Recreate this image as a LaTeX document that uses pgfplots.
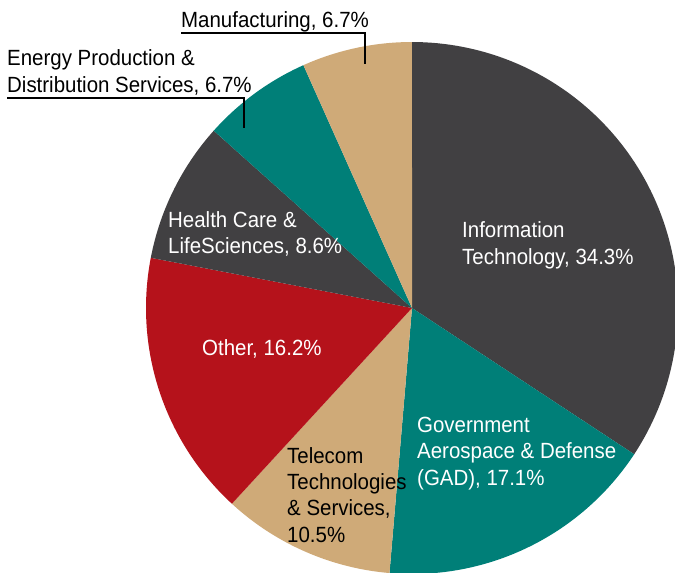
\documentclass[border=0pt]{standalone}
\usepackage{pgfplots}
\pgfplotsset{compat=1.18}
\usepackage{fontspec}
\setmainfont{Liberation Sans}[FakeStretch=0.93]

\definecolor{pgray}{HTML}{414042}
\definecolor{pteal}{HTML}{007F78}
\definecolor{ptan}{HTML}{CFAA78}
\definecolor{pred}{HTML}{B5121B}

% pie centre and radius, in picture units (1 unit = 1pt)
\def\cx{412}
\def\cy{308}
\def\rr{266}
\def\tot{100.1}
% #1 = cumulative share before the slice, #2 = share, #3 = colour
\newcommand\slice[3]{%
  \addplot[fill=#3, draw=none, samples=90,
    domain={90-360*(#1+#2)/\tot}:{90-360*(#1)/\tot}]
    ({\cx+\rr*cos(x)},{\cy-\rr*sin(x)}) -- (axis cs:\cx,\cy) -- cycle;
}
\tikzset{lab/.style={anchor=base west, inner sep=0pt,
  font=\fontsize{22pt}{27pt}\selectfont}}

\begin{document}
\begin{tikzpicture}
\begin{axis}[
  width=675pt, height=573pt, scale only axis,
  xmin=0, xmax=675, ymin=0, ymax=573, y dir=reverse,
  hide axis, clip=true,
]
\path (rel axis cs:0,0) rectangle (rel axis cs:1,1);

\slice{0}{34.3}{pgray}    % Information Technology
\slice{34.3}{17.1}{pteal} % GAD
\slice{51.4}{10.5}{ptan}  % Telecom
\slice{61.9}{16.2}{pred}  % Other
\slice{78.1}{8.6}{pgray}  % Health Care
\slice{86.7}{6.7}{pteal}  % Energy
\slice{93.4}{6.7}{ptan}   % Manufacturing

% leader lines
\addplot[black, line width=1.2pt] coordinates {(7,98) (244,98) (244,128)};
\addplot[black, line width=1.2pt] coordinates {(181,33) (365,33) (365,64)};

\node[lab, text=white] at (axis cs:462,237) {Information};
\node[lab, text=white] at (axis cs:462,264) {Technology, 34.3\%};

\node[lab, text=white] at (axis cs:417,432) {Government};
\node[lab, text=white] at (axis cs:417,458) {Aerospace \& Defense};
\node[lab, text=white] at (axis cs:417,485) {(GAD), 17.1\%};

\node[lab, text=black] at (axis cs:287,463) {Telecom};
\node[lab, text=black] at (axis cs:287,489) {Technologies};
\node[lab, text=black] at (axis cs:287,515) {\& Services,};
\node[lab, text=black] at (axis cs:287,542) {10.5\%};

\node[lab, text=white] at (axis cs:202,355) {Other, 16.2\%};

\node[lab, text=white] at (axis cs:168,227) {Health Care \&};
\node[lab, text=white] at (axis cs:168,253) {LifeSciences, 8.6\%};

\node[lab, text=black] at (axis cs:7,65) {Energy Production \&};
\node[lab, text=black] at (axis cs:7,92) {Distribution Services, 6.7\%};

\node[lab, text=black] at (axis cs:181,27) {Manufacturing, 6.7\%};
\end{axis}
\end{tikzpicture}
\end{document}
